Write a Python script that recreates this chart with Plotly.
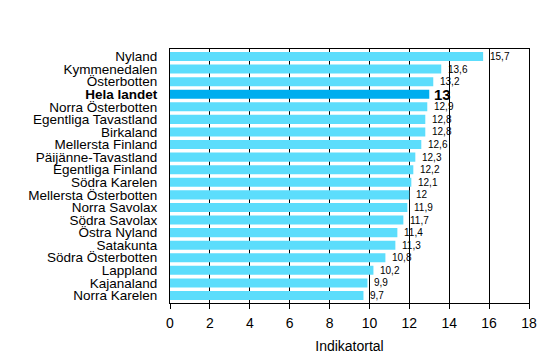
import plotly.graph_objects as go

regions = ["Nyland", "Kymmenedalen", "Österbotten", "Hela landet", "Norra Österbotten",
           "Egentliga Tavastland", "Birkaland", "Mellersta Finland", "Päijänne-Tavastland",
           "Egentliga Finland", "Södra Karelen", "Mellersta Österbotten", "Norra Savolax",
           "Södra Savolax", "Östra Nyland", "Satakunta", "Södra Österbotten", "Lappland",
           "Kajanaland", "Norra Karelen"]
values = [15.7, 13.6, 13.2, 13, 12.9, 12.8, 12.8, 12.6, 12.3, 12.2, 12.1, 12, 11.9,
          11.7, 11.4, 11.3, 10.8, 10.2, 9.9, 9.7]
highlight = "Hela landet"
x_ticks = [0, 2, 4, 6, 8, 10, 12, 14, 16, 18]

def fmt(v):
    return ("%g" % v).replace(".", ",")

colors = ["#00AEEF" if r == highlight else "#5CDDFC" for r in regions]
ticktext = ["<b>%s</b>" % r if r == highlight else r for r in regions]

fig = go.Figure(go.Bar(
    x=values, y=regions, orientation="h",
    marker=dict(color=colors, line=dict(width=0)),
))

for r, v in zip(regions, values):
    hl = r == highlight
    fig.add_annotation(
        x=v, y=r, xref="x", yref="y", xanchor="left", yanchor="middle",
        xshift=5 if not hl else 3, showarrow=False,
        text="<b>%s</b>" % fmt(v) if hl else fmt(v),
        font=dict(family="Arial, Liberation Sans", size=15 if hl else 10, color="black"),
    )

fig.update_layout(
    width=553, height=355,
    margin=dict(l=170, r=24, t=49, b=52),
    paper_bgcolor="white", plot_bgcolor="white",
    bargap=0.28, showlegend=False,
    font=dict(family="Arial, Liberation Sans", size=14, color="black"),
    xaxis=dict(range=[0, 18], tickvals=x_ticks, showgrid=True, gridcolor="black", gridwidth=1,
               showline=True, linecolor="black", linewidth=1, mirror=True,
               ticks="outside", ticklen=5, tickcolor="black", zeroline=False,
               title=dict(text="Indikatortal", font=dict(size=14), standoff=11),
               tickfont=dict(size=14), ticklabelstandoff=2, automargin=False),
    yaxis=dict(categoryorder="array", categoryarray=regions, autorange="reversed",
               tickvals=regions, ticktext=ticktext, ticks="", showline=True,
               linecolor="black", linewidth=1, mirror=True, tickfont=dict(size=13.5),
               ticklabelstandoff=9, automargin=False),
)

fig.write_html("out.html")
